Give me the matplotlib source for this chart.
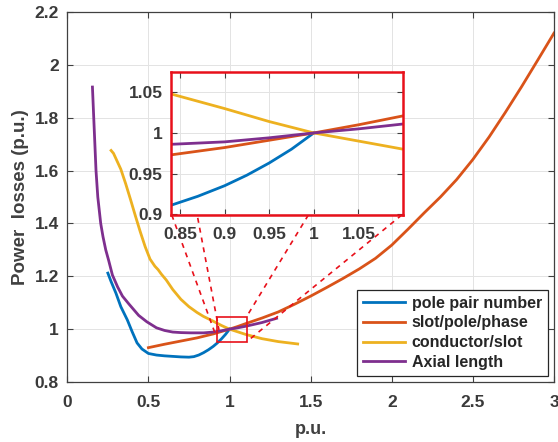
import matplotlib.pyplot as plt
from matplotlib.patches import Rectangle

plt.rcParams['font.family'] = ['Liberation Sans', 'DejaVu Sans']
plt.rcParams['font.weight'] = 'bold'
NARROW = ['Liberation Sans Narrow', 'Liberation Sans', 'DejaVu Sans']

# curves (x in p.u., losses in p.u.)
pole_x = [0.25, 0.27, 0.30, 0.33, 0.37, 0.40, 0.43, 0.46, 0.50, 0.55, 0.60, 0.65, 0.70,
          0.75, 0.78, 0.81, 0.84, 0.87, 0.90, 0.925, 0.95, 0.975, 1.00]
pole_y = [1.212, 1.18, 1.136, 1.085, 1.035, 0.99, 0.948, 0.925, 0.908, 0.902, 0.899, 0.897,
          0.895, 0.894, 0.896, 0.902, 0.911, 0.922, 0.935, 0.948, 0.963, 0.980, 1.000]

spp_x = [0.50, 0.60, 0.70, 0.80, 0.84, 0.90, 0.95, 1.00, 1.05, 1.10, 1.20, 1.30, 1.40, 1.50,
         1.60, 1.70, 1.80, 1.90, 2.00, 2.10, 2.20, 2.30, 2.40, 2.50, 2.60, 2.70, 2.80, 2.90, 3.00]
spp_y = [0.930, 0.943, 0.955, 0.967, 0.973, 0.982, 0.991, 1.000, 1.010, 1.021, 1.042, 1.065,
         1.094, 1.125, 1.158, 1.192, 1.228, 1.268, 1.318, 1.378, 1.440, 1.500, 1.566, 1.642,
         1.727, 1.820, 1.917, 2.018, 2.12]

cond_x = [0.27, 0.285, 0.30, 0.33, 0.36, 0.39, 0.42, 0.45, 0.48, 0.51, 0.54, 0.56, 0.58, 0.61,
          0.65, 0.70, 0.75, 0.80, 0.84, 0.90, 0.95, 1.00, 1.05, 1.10, 1.20, 1.30, 1.42]
cond_y = [1.676, 1.665, 1.645, 1.605, 1.55, 1.49, 1.428, 1.368, 1.312, 1.265, 1.238, 1.225,
          1.208, 1.186, 1.150, 1.113, 1.085, 1.063, 1.048, 1.030, 1.014, 1.000, 0.990, 0.980,
          0.964, 0.953, 0.944]

axial_x = [0.155, 0.163, 0.170, 0.177, 0.188, 0.206, 0.22, 0.237, 0.255, 0.278, 0.31, 0.34,
           0.38, 0.44, 0.49, 0.55, 0.60, 0.65, 0.70, 0.76, 0.84, 0.90, 0.95, 1.00, 1.05, 1.10,
           1.20, 1.29]
axial_y = [1.916, 1.80, 1.70, 1.60, 1.50, 1.40, 1.35, 1.30, 1.26, 1.205, 1.16, 1.125,
           1.095, 1.052, 1.028, 1.005, 0.995, 0.989, 0.987, 0.986, 0.986, 0.989, 0.994, 1.000,
           1.005, 1.011, 1.025, 1.041]

series = [
    ('pole pair number', pole_x, pole_y, '#0072BD'),
    ('slot/pole/phase', spp_x, spp_y, '#D95319'),
    ('conductor/slot', cond_x, cond_y, '#EDB120'),
    ('Axial length', axial_x, axial_y, '#7E2F8E'),
]

# zoom box and the dashed connectors (main-axes data coords)
zoom_box = (0.925, 0.952, 1.105, 1.047)
connectors = [((0.644, 1.432), (0.917, 0.974)),
              ((0.804, 1.421), (0.935, 0.997)),
              ((1.486, 1.432), (1.105, 1.047)),
              ((2.062, 1.432), (1.105, 0.952))]

TXT = '#3a3a3a'
RED = '#E8101A'


def style_axes(ax, xpad, ypad):
    ax.grid(True, color='#e3e3e3', linewidth=0.7)
    ax.set_axisbelow(True)
    ax.tick_params(direction='in', top=True, right=True, length=4, width=0.8,
                   colors='#404040', labelcolor=TXT)
    ax.tick_params(axis='x', pad=xpad)
    ax.tick_params(axis='y', pad=ypad)
    for lab in ax.get_xticklabels() + ax.get_yticklabels():
        lab.set_fontweight('bold')
        lab.set_fontfamily(NARROW)
        lab.set_fontsize(12.5)


fig = plt.figure(figsize=(5.58, 4.42), dpi=100)
ax = fig.add_axes([0.1206, 0.1357, 0.8722, 0.8372])
for name, xs, ys, col in series:
    ax.plot(xs, ys, color=col, linewidth=2.0, label=name)
ax.set_xlim(0, 3)
ax.set_ylim(0.8, 2.2)
ax.set_xticks([0, 0.5, 1, 1.5, 2, 2.5, 3])
ax.set_xticklabels(['0', '0.5', '1', '1.5', '2', '2.5', '3'])
ax.set_yticks([0.8, 1.0, 1.2, 1.4, 1.6, 1.8, 2.0, 2.2])
ax.set_yticklabels(['0.8', '1', '1.2', '1.4', '1.6', '1.8', '2', '2.2'])
style_axes(ax, 9, 6)
for sp in ax.spines.values():
    sp.set_color('#404040')
    sp.set_linewidth(0.9)
ax.set_xlabel('p.u.', fontsize=13, fontweight='bold', color='#404040')
ax.set_ylabel('Power  losses (p.u.)', fontsize=13.5, fontweight='bold', color='#404040',
              family=NARROW)
ax.xaxis.set_label_coords(0.5, -0.105)
ax.yaxis.set_label_coords(-0.078, 0.5)

x0, y0, x1, y1 = zoom_box
ax.add_patch(Rectangle((x0, y0), x1 - x0, y1 - y0, fill=False, edgecolor=RED,
                       linewidth=1.2, zorder=5))
for (sx, sy), (ex, ey) in connectors:
    ax.plot([sx, ex], [sy, ey], color=RED, linestyle=(0, (3, 3)), linewidth=1.2, zorder=5)

leg = ax.legend(loc='lower right', bbox_to_anchor=(1.0, 0.0), fontsize=11.5,
                handlelength=2.6, handletextpad=0.45, borderpad=0.35, labelspacing=0.3,
                fancybox=False, framealpha=1, edgecolor='#262626', borderaxespad=0.4)
leg.get_frame().set_linewidth(0.9)
for t in leg.get_texts():
    t.set_color('#262626')
    t.set_fontweight('bold')

# inset zoom
ins = fig.add_axes([0.3065, 0.5136, 0.4158, 0.3235])
for name, xs, ys, col in series:
    ins.plot(xs, ys, color=col, linewidth=2.0)
ins.set_xlim(0.84, 1.10)
ins.set_ylim(0.899, 1.075)
ins.set_xticks([0.85, 0.9, 0.95, 1.0, 1.05])
ins.set_xticklabels(['0.85', '0.9', '0.95', '1', '1.05'])
ins.set_yticks([0.9, 0.95, 1.0, 1.05])
ins.set_yticklabels(['0.9', '0.95', '1', '1.05'])
style_axes(ins, 9, 6)
for sp in ins.spines.values():
    sp.set_color(RED)
    sp.set_linewidth(1.8)

fig.savefig('out.png', dpi=100)
